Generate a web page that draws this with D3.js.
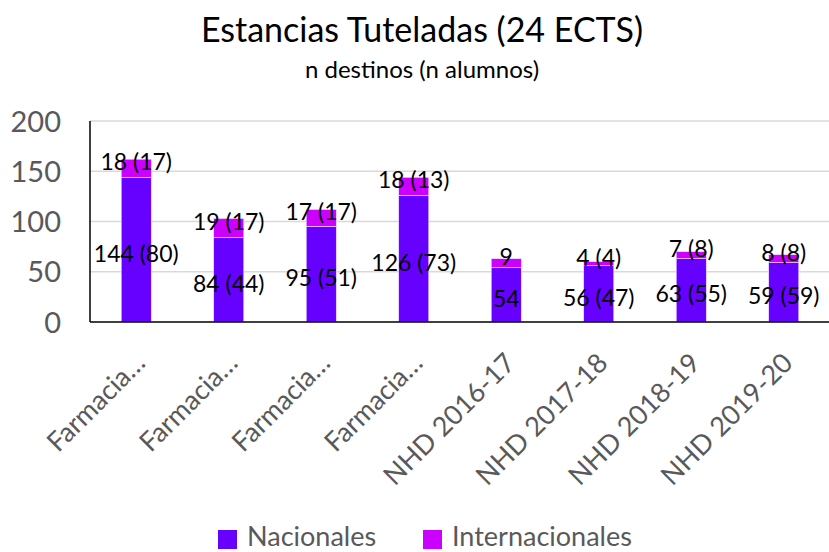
<!DOCTYPE html>
<html><head><meta charset="utf-8">
<script src="https://cdn.jsdelivr.net/npm/d3@7/dist/d3.min.js"></script>
<style>body{margin:0;background:#fff}svg{display:block}text{font-family:Lato,"Open Sans",sans-serif}</style>
</head><body><svg id="c" width="829" height="552"></svg>
<script>
const categories = ["Farmacia…","Farmacia…","Farmacia…","Farmacia…","NHD 2016-17","NHD 2017-18","NHD 2018-19","NHD 2019-20"];
const nacionales = [144, 84, 95, 126, 54, 56, 63, 59];
const internacionales = [18, 19, 17, 18, 9, 4, 7, 8];
const alumnosNac = [80, 44, 51, 73, null, 47, 55, 59];
const alumnosInt = [17, 17, 17, 13, null, 4, 8, 8];
const yTicks = [0, 50, 100, 150, 200];
const seriesNames = ["Nacionales", "Internacionales"];
const colors = ["#6600FF", "#CC00FF"];

const svg = d3.select("#c");
const m = {l: 90};
const W = 830;
const x = d3.scaleBand().domain(d3.range(categories.length)).range([m.l, W]).paddingInner(0.675).paddingOuter(0.3375);
const y = d3.scaleLinear().domain([0, 200]).range([322, 121]);

// gridlines
svg.append("g").selectAll("line").data(yTicks.filter(d => d > 0)).join("line")
  .attr("x1", m.l).attr("x2", W).attr("y1", d => y(d)).attr("y2", d => y(d))
  .attr("stroke", "#d9d9d9").attr("stroke-width", 1.5);

// y axis
const ya = svg.append("g").attr("transform", `translate(${m.l},0)`)
  .call(d3.axisLeft(y).tickValues(yTicks).tickSize(0).tickPadding(29));
ya.select(".domain").remove();
ya.selectAll("text").attr("font-size", 29).attr("fill", "#595959").attr("dy", "0.35em");

// stack
const data = categories.map((c, i) => ({i, nac: nacionales[i], int: internacionales[i]}));
const stack = d3.stack().keys(["nac", "int"])(data);
svg.append("g").selectAll("g").data(stack).join("g").attr("fill", (d, k) => colors[k])
  .selectAll("rect").data(d => d).join("rect")
  .attr("x", d => x(d.data.i)).attr("width", x.bandwidth())
  .attr("y", d => y(d[1])).attr("height", d => y(d[0]) - y(d[1]))
  .attr("stroke", "#f3e6ff").attr("stroke-width", 0.6);

// axes lines
svg.append("line").attr("x1", m.l).attr("x2", m.l).attr("y1", y(200)).attr("y2", y(0)).attr("stroke", "#000").attr("stroke-width", 1.5);
svg.append("line").attr("x1", m.l).attr("x2", W).attr("y1", y(0)).attr("y2", y(0)).attr("stroke", "#000").attr("stroke-width", 1.5);

// data labels
const lbl = (v, a) => a == null ? String(v) : `${v} (${a})`;
const lg = svg.append("g").attr("font-size", 23).attr("fill", "#000").attr("text-anchor", "middle");
stack[0].forEach((d, i) => {
  lg.append("text").attr("x", x(i) + x.bandwidth() / 2).attr("y", (y(d[0]) + y(d[1])) / 2 + 4)
    .attr("dy", "0.35em").text(lbl(nacionales[i], alumnosNac[i]));
});
stack[1].forEach((d, i) => {
  lg.append("text").attr("x", x(i) + x.bandwidth() / 2).attr("y", (y(d[0]) + y(d[1])) / 2 - 6)
    .attr("dy", "0.35em").text(lbl(internacionales[i], alumnosInt[i]));
});

// x labels
const xl = svg.append("g").attr("font-size", 27).attr("fill", "#595959").attr("text-anchor", "end");
categories.forEach((c, i) => {
  const cx = x(i) + x.bandwidth() / 2 + 4, cy = y(0) + 36;
  xl.append("text").attr("transform", `translate(${cx},${cy}) rotate(-45)`).attr("dy", "0.35em").text(c);
});

// title
svg.append("text").attr("x", 422).attr("y", 42).attr("text-anchor", "middle").attr("font-size", 34).attr("fill", "#000").text("Estancias Tuteladas (24 ECTS)");
svg.append("text").attr("x", 422).attr("y", 78).attr("text-anchor", "middle").attr("font-size", 24).attr("fill", "#000").text("n destinos (n alumnos)");

// legend
const leg = svg.append("g");
const legItems = [{x: 218}, {x: 423}];
seriesNames.forEach((s, k) => {
  leg.append("rect").attr("x", legItems[k].x).attr("y", 530).attr("width", 19).attr("height", 19).attr("fill", colors[k]);
  leg.append("text").attr("x", legItems[k].x + 29).attr("y", 546).attr("font-size", 27).attr("fill", "#595959").text(s);
});
</script></body></html>
